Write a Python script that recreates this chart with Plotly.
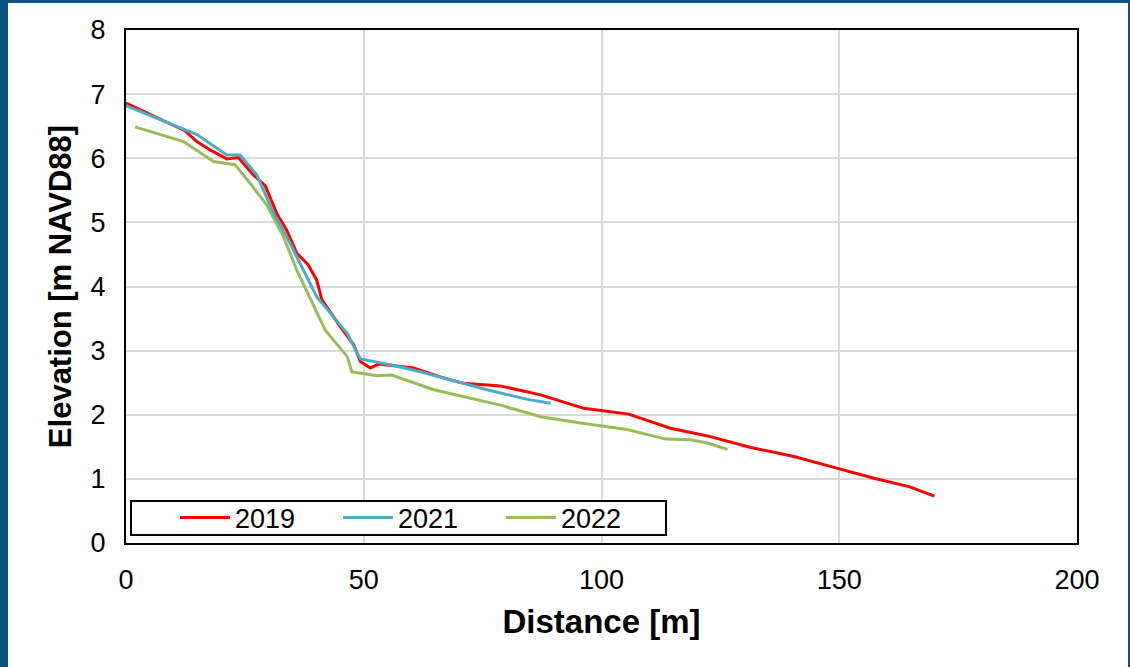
import plotly.graph_objects as go

# 2019 profile
x2019 = [0, 12.4, 14.9, 17.7, 21.2, 23.6, 26.8, 29.3, 31.7, 33.8, 35.9, 38.3, 40.1,
         41.2, 45.1, 47.9, 49.3, 51.4, 53.1, 60.5, 66.1, 71.0, 78.7, 87.2, 96.3,
         105.7, 114.5, 122.3, 131.4, 140.5, 148.9, 157.3, 164.7, 170.0]
y2019 = [6.86, 6.43, 6.26, 6.13, 5.99, 6.01, 5.74, 5.57, 5.14, 4.88, 4.52, 4.34, 4.10,
         3.79, 3.37, 3.09, 2.83, 2.73, 2.79, 2.73, 2.59, 2.49, 2.45, 2.31, 2.10,
         2.01, 1.79, 1.67, 1.49, 1.35, 1.18, 1.01, 0.88, 0.73]

# 2021 profile
x2021 = [0, 14.9, 21.2, 24.0, 27.5, 28.9, 31.0, 33.8, 38.0, 40.1, 43.6, 46.5, 49.3,
         55.6, 61.9, 68.2, 75.9, 84.4, 89.3]
y2021 = [6.82, 6.37, 6.05, 6.05, 5.74, 5.51, 5.15, 4.78, 4.15, 3.84, 3.53, 3.27, 2.87,
         2.78, 2.67, 2.54, 2.39, 2.24, 2.18]

# 2022 profile
x2022 = [1.9, 12.1, 18.4, 22.9, 26.1, 29.6, 33.1, 35.9, 41.9, 46.5, 47.5, 52.8, 55.9,
         64.7, 78.7, 87.2, 95.6, 105.4, 113.5, 118.7, 122.3, 126.5]
y2022 = [6.49, 6.26, 5.95, 5.90, 5.61, 5.27, 4.78, 4.26, 3.32, 2.91, 2.67, 2.61, 2.62,
         2.39, 2.15, 1.97, 1.87, 1.77, 1.62, 1.61, 1.56, 1.46]

x_ticks = [0, 50, 100, 150, 200]
y_ticks = [0, 1, 2, 3, 4, 5, 6, 7, 8]

FONT = "Liberation Sans, Arial, sans-serif"

fig = go.Figure()
fig.add_trace(go.Scatter(x=x2022, y=y2022, mode="lines", name="2022",
                         line=dict(color="#9BBB59", width=3), legendrank=3))
fig.add_trace(go.Scatter(x=x2019, y=y2019, mode="lines", name="2019",
                         line=dict(color="#FF0000", width=3), legendrank=1))
fig.add_trace(go.Scatter(x=x2021, y=y2021, mode="lines", name="2021",
                         line=dict(color="#4BACC6", width=3), legendrank=2))

W, H = 1130, 667
L, R, T, B = 126, 53, 30, 124
PW, PH = W - L - R, H - T - B


def px_x(p):
    return (p - L) / PW


def px_y(p):
    return (H - B - p) / PH


fig.update_layout(
    width=W, height=H,
    margin=dict(l=L, r=R, t=T, b=B),
    paper_bgcolor="#0B5380",
    plot_bgcolor="white",
    font=dict(family=FONT, size=27, color="black"),
    showlegend=True,
    legend=dict(
        orientation="h", x=px_x(175), y=px_y(518), xanchor="left", yanchor="middle",
        bgcolor="rgba(0,0,0,0)", borderwidth=0,
        font=dict(size=27, family=FONT), itemwidth=50,
        entrywidth=98, entrywidthmode="pixels", traceorder="normal",
    ),
    shapes=[
        dict(type="rect", xref="paper", yref="paper",
             x0=px_x(8), x1=px_x(1128), y0=px_y(700), y1=px_y(3),
             fillcolor="white", line=dict(width=0), layer="below"),
        dict(type="rect", xref="paper", yref="paper",
             x0=px_x(131), x1=px_x(666), y0=px_y(535), y1=px_y(501),
             fillcolor="white", line=dict(width=2, color="black"), layer="above"),
    ],
)

fig.update_xaxes(
    range=[0, 200], tickvals=x_ticks, showgrid=True, gridcolor="#D9D9D9", gridwidth=1.5,
    showline=True, linecolor="black", linewidth=2, mirror=True, zeroline=False,
    ticks="", ticklabelstandoff=12,
    title=dict(text="<b>Distance [m]</b>", font=dict(size=33, family=FONT), standoff=15),
)
fig.update_yaxes(
    range=[0, 8], tickvals=y_ticks, showgrid=True, gridcolor="#D9D9D9", gridwidth=1.5,
    showline=True, linecolor="black", linewidth=2, mirror=True, zeroline=False,
    ticks="", ticklabelstandoff=13,
    title=dict(text="<b>Elevation [m NAVD88]</b>", font=dict(size=31, family=FONT), standoff=10),
)

fig.write_html("out.html", config={"displayModeBar": False},
               post_script="document.body.style.margin='0px';document.body.style.overflow='hidden';")
